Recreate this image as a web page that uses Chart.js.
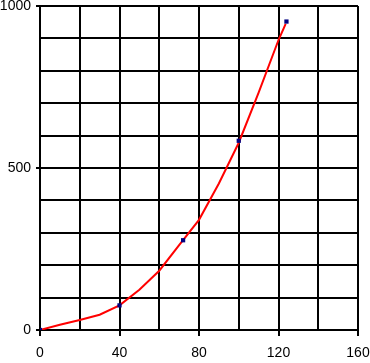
<!DOCTYPE html>
<html>
<head>
<meta charset="utf-8">
<script src="https://cdn.jsdelivr.net/npm/chart.js@4/dist/chart.umd.min.js"></script>
<style>
html,body{margin:0;padding:0;background:#fff;}
#c{display:block;}
</style>
</head>
<body>
<canvas id="c" width="370" height="363"></canvas>
<script>
const pointX = [0, 40, 72, 100, 124];
const pointY = [0, 76, 277, 584, 952];
const curveX = [0, 10, 20, 30, 40, 50, 60, 70, 80, 90, 100, 110, 120, 123.6];
const curveY = [0, 16, 31, 47, 76, 124, 183, 262, 340, 452, 578, 733, 895, 945];
const xTickLabels = [0, 40, 80, 120, 160];
const yTickLabels = [0, 500, 1000];

const pts = pointX.map((x, i) => ({x: x, y: pointY[i]}));
const curve = curveX.map((x, i) => ({x: x, y: curveY[i]}));

const font = {family: '"Liberation Sans", Arial, sans-serif', size: 14};

const chart = new Chart(document.getElementById('c'), {
  type: 'scatter',
  data: {
    datasets: [
      {
        data: pts,
        showLine: false,
        pointStyle: 'rect',
        pointRadius: 3,
        backgroundColor: '#000080',
        borderColor: '#000080',
        borderWidth: 0
      },
      {
        data: curve,
        showLine: true,
        tension: 0,
        borderColor: '#ff0000',
        borderWidth: 2,
        pointRadius: 0,
        fill: false
      }
    ]
  },
  options: {
    responsive: false,
    animation: false,
    events: [],
    layout: {autoPadding: false, padding: {top: 6, right: 12, left: 0, bottom: 0}},
    plugins: {legend: {display: false}, tooltip: {enabled: false}},
    scales: {
      x: {
        type: 'linear', min: 0, max: 160,
        afterFit: s => { s.height = 33; s.paddingLeft = 0; s.paddingRight = 0; s.paddingTop = 0; s.paddingBottom = 0; },
        border: {color: '#000', width: 2},
        grid: {
          color: '#000', lineWidth: 2, tickLength: 6,
          tickColor: ctx => xTickLabels.includes(ctx.tick && ctx.tick.value) ? '#000' : 'rgba(0,0,0,0)'
        },
        ticks: {
          stepSize: 20, autoSkip: false, maxRotation: 0, color: '#000', font: font, padding: 9,
          callback: v => xTickLabels.includes(v) ? String(v) : ''
        }
      },
      y: {
        type: 'linear', min: 0, max: 1000,
        afterFit: s => { s.width = 40; s.paddingLeft = 0; s.paddingRight = 0; s.paddingTop = 0; s.paddingBottom = 0; },
        border: {color: '#000', width: 2},
        grid: {
          color: '#000', lineWidth: 2, tickLength: 4,
          tickColor: ctx => yTickLabels.includes(ctx.tick && ctx.tick.value) ? '#000' : 'rgba(0,0,0,0)'
        },
        ticks: {
          stepSize: 100, autoSkip: false, color: '#000', font: font, padding: 5,
          callback: v => yTickLabels.includes(v) ? String(v) : ''
        }
      }
    }
  }
});
</script>
</body>
</html>
